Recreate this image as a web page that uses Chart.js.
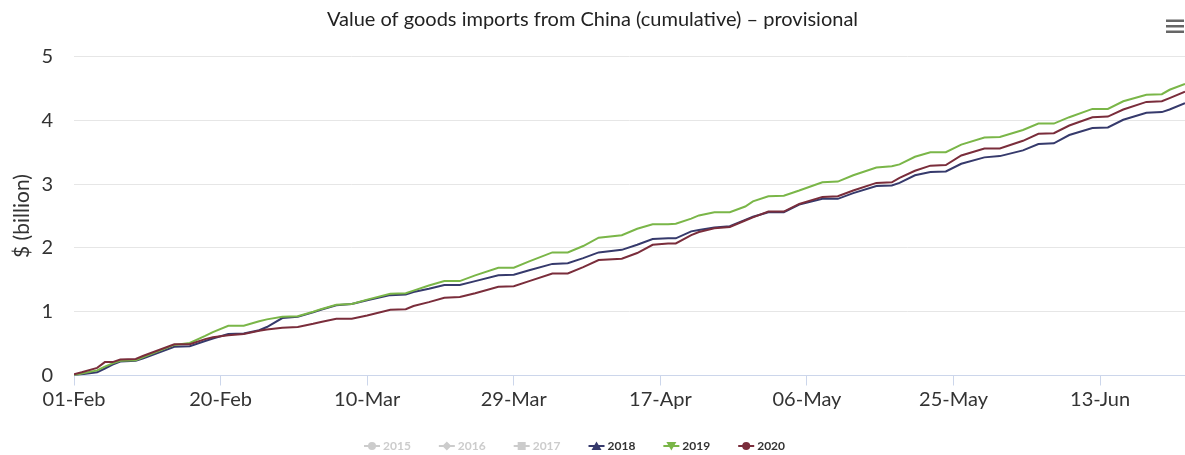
<!DOCTYPE html>
<html>
<head>
<meta charset="utf-8">
<title>Value of goods imports from China (cumulative)</title>
<script src="https://cdn.jsdelivr.net/npm/chart.js@4.4.1/dist/chart.umd.min.js"></script>
<style>
    html, body { margin: 0; padding: 0; background: #ffffff; }
    #wrap { position: relative; width: 1185px; height: 455px; }
</style>
</head>
<body>
<div id="wrap"><canvas id="graficoImportacoes"></canvas></div>
<script>
// Days since 01-Feb where the line vertices were read
const dias = [0, 1, 3, 4, 5, 6, 8, 9, 13, 15, 17, 18, 20, 22, 24, 25,
    27, 29, 31, 32, 34, 36, 38, 41, 43, 44, 46, 48, 50, 52, 55, 57,
    59, 62, 64, 66, 68, 71, 73, 75, 77, 78, 80, 81, 83, 85, 87, 88,
    90, 92, 94, 97, 99, 101, 104, 106, 107, 109, 111, 113, 115, 118, 120, 123,
    125, 127, 129, 132, 134, 136, 139, 141, 142, 144];

// Cumulative value, $ billion
const valores2018 = [0.00, 0.02, 0.05, 0.11, 0.17, 0.22, 0.23, 0.27, 0.45, 0.46, 0.54, 0.58, 0.65, 0.66, 0.71, 0.76,
    0.90, 0.92, 0.99, 1.03, 1.10, 1.12, 1.18, 1.26, 1.27, 1.31, 1.36, 1.42, 1.42, 1.48, 1.57, 1.58,
    1.65, 1.75, 1.76, 1.84, 1.93, 1.97, 2.05, 2.14, 2.15, 2.15, 2.26, 2.28, 2.32, 2.34, 2.44, 2.49,
    2.56, 2.56, 2.68, 2.77, 2.77, 2.86, 2.97, 2.98, 3.02, 3.14, 3.19, 3.20, 3.32, 3.42, 3.44, 3.53,
    3.63, 3.64, 3.77, 3.88, 3.89, 4.01, 4.12, 4.13, 4.17, 4.27];
const valores2019 = [0.00, 0.03, 0.08, 0.14, 0.19, 0.23, 0.24, 0.29, 0.48, 0.51, 0.62, 0.68, 0.78, 0.78, 0.85, 0.88,
    0.92, 0.93, 1.00, 1.04, 1.11, 1.12, 1.19, 1.28, 1.29, 1.33, 1.41, 1.48, 1.48, 1.57, 1.69, 1.69,
    1.79, 1.93, 1.93, 2.03, 2.16, 2.20, 2.30, 2.37, 2.37, 2.38, 2.46, 2.51, 2.56, 2.56, 2.65, 2.73,
    2.81, 2.82, 2.90, 3.03, 3.04, 3.14, 3.26, 3.28, 3.31, 3.43, 3.50, 3.50, 3.62, 3.73, 3.74, 3.85,
    3.95, 3.95, 4.05, 4.18, 4.18, 4.30, 4.40, 4.41, 4.48, 4.57];
const valores2020 = [0.02, 0.05, 0.12, 0.21, 0.21, 0.25, 0.26, 0.31, 0.49, 0.49, 0.57, 0.60, 0.63, 0.65, 0.70, 0.72,
    0.75, 0.76, 0.81, 0.84, 0.89, 0.89, 0.94, 1.03, 1.04, 1.09, 1.15, 1.22, 1.23, 1.29, 1.39, 1.40,
    1.48, 1.60, 1.60, 1.70, 1.81, 1.83, 1.92, 2.05, 2.07, 2.07, 2.20, 2.25, 2.31, 2.33, 2.43, 2.48,
    2.57, 2.57, 2.69, 2.80, 2.81, 2.90, 3.02, 3.03, 3.10, 3.21, 3.29, 3.30, 3.45, 3.56, 3.56, 3.68,
    3.79, 3.80, 3.92, 4.05, 4.06, 4.17, 4.29, 4.30, 4.35, 4.45];

const tickDias = [0, 19, 38, 57, 76, 95, 114, 133];
const tickLabels = ['01-Feb', '20-Feb', '10-Mar', '29-Mar', '17-Apr', '06-May', '25-May', '13-Jun'];

const pontos = (valores) => valores.map((v, i) => ({ x: dias[i], y: v }));

// Draws a small marker for the legend
function desenharMarcador(ctx, forma, x, y) {
    ctx.beginPath();
    if (forma === 'circle') {
        ctx.arc(x, y, 4, 0, Math.PI * 2);
    } else if (forma === 'rectRot') {
        ctx.moveTo(x, y - 4.5); ctx.lineTo(x + 4.5, y); ctx.lineTo(x, y + 4.5); ctx.lineTo(x - 4.5, y);
    } else if (forma === 'rect') {
        ctx.rect(x - 4, y - 4, 8, 8);
    } else if (forma === 'triangle') {
        ctx.moveTo(x, y - 4.5); ctx.lineTo(x + 5, y + 4); ctx.lineTo(x - 5, y + 4);
    } else if (forma === 'triangleDown') {
        ctx.moveTo(x, y + 4.5); ctx.lineTo(x + 5, y - 4); ctx.lineTo(x - 5, y - 4);
    }
    ctx.closePath();
    ctx.fill();
}

// Legend and menu icon drawn after the chart
const legendaPlugin = {
    id: 'legendaAnos',
    afterDraw(chart) {
        const ctx = chart.ctx;
        const y = 446;
        let x = 364;
        ctx.save();
        ctx.font = 'bold 12px Lato';
        ctx.textBaseline = 'middle';
        chart.data.datasets.forEach((ds, i) => {
            const oculto = !chart.isDatasetVisible(i);
            const cor = oculto ? '#cccccc' : ds.borderColor;
            ctx.strokeStyle = cor;
            ctx.fillStyle = cor;
            ctx.lineWidth = 2;
            ctx.beginPath();
            ctx.moveTo(x, y);
            ctx.lineTo(x + 16, y);
            ctx.stroke();
            desenharMarcador(ctx, ds.marcador, x + 8, y);
            ctx.fillStyle = oculto ? '#cccccc' : '#333333';
            ctx.fillText(ds.label, x + 19, y + 0.5);
            x += 19 + ctx.measureText(ds.label).width + 28;
        });

        // hamburger menu
        ctx.fillStyle = '#666666';
        [19.5, 25, 30.5].forEach((yy) => ctx.fillRect(1166, yy, 18, 2.5));
        ctx.restore();
    }
};

function initGrafico() {
    Chart.defaults.font.family = 'Lato, "Open Sans", sans-serif';

    const ctx = document.getElementById('graficoImportacoes');
    new Chart(ctx, {
        type: 'line',
        data: {
            datasets: [
                { label: '2015', data: [], hidden: true, borderColor: '#cccccc', marcador: 'circle' },
                { label: '2016', data: [], hidden: true, borderColor: '#cccccc', marcador: 'rectRot' },
                { label: '2017', data: [], hidden: true, borderColor: '#cccccc', marcador: 'rect' },
                { label: '2018', data: pontos(valores2018), borderColor: '#363a6c', marcador: 'triangle', order: 3 },
                { label: '2019', data: pontos(valores2019), borderColor: '#7ab648', marcador: 'triangleDown', order: 2 },
                { label: '2020', data: pontos(valores2020), borderColor: '#7a2d3b', marcador: 'circle', order: 1 }
            ]
        },
        options: {
            responsive: true,
            maintainAspectRatio: false,
            animation: false,
            layout: { padding: { top: 0, right: 0, bottom: 34.5, left: 0 } },
            elements: {
                line: { borderWidth: 2, tension: 0, fill: false },
                point: { radius: 0, hoverRadius: 0 }
            },
            plugins: {
                legend: { display: false },
                tooltip: { enabled: false },
                title: {
                    display: true,
                    text: 'Value of goods imports from China (cumulative) \u2013 provisional',
                    color: '#222222',
                    font: { size: 20, weight: 'normal' },
                    padding: { top: 8, bottom: 24.6 }
                }
            },
            scales: {
                x: {
                    type: 'linear',
                    min: 0,
                    max: 144,
                    afterBuildTicks: (scale) => {
                        scale.ticks = tickDias.map((v) => ({ value: v }));
                    },
                    afterFit: (scale) => { scale.height = 45; },
                    ticks: {
                        autoSkip: false,
                        maxRotation: 0,
                        color: '#333333',
                        font: { size: 20 },
                        padding: 2,
                        callback: (v) => {
                            const i = tickDias.indexOf(v);
                            return i >= 0 ? tickLabels[i] : '';
                        }
                    },
                    grid: { drawOnChartArea: false, color: '#ccd6eb', tickLength: 10 },
                    border: { display: true, color: '#ccd6eb' }
                },
                y: {
                    min: 0,
                    max: 5,
                    afterFit: (scale) => { scale.width = 74; },
                    ticks: { stepSize: 1, color: '#333333', font: { size: 20 }, padding: 21 },
                    grid: { color: '#e6e6e6', drawTicks: false },
                    border: { display: false },
                    title: {
                        display: true,
                        text: '$ (billion)',
                        color: '#333333',
                        font: { size: 21 },
                        padding: { top: 10, bottom: 0 }
                    }
                }
            }
        },
        plugins: [legendaPlugin]
    });
}

initGrafico();
</script>
</body>
</html>
